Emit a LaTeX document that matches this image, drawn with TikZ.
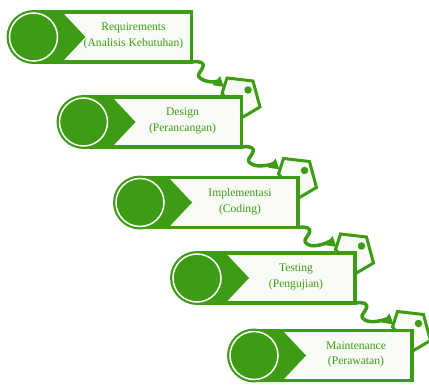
\documentclass[tikz,border=0pt]{standalone}
\usepackage{fontspec}
\setmainfont{Liberation Serif}
\usetikzlibrary{backgrounds,arrows.meta}
\definecolor{vert}{RGB}{62,156,20}
\definecolor{fond}{RGB}{248,250,246}
\begin{document}
\begin{tikzpicture}[x=1pt,y=-1pt]
% Styles (MODIFIABLES)
\tikzstyle{cadre}=[draw=vert,line width=3.5pt,fill=fond,minimum width=158pt,minimum height=50pt,inner sep=0pt,outer sep=0pt]
\tikzstyle{disque}=[circle,fill=vert,draw=vert,double=white,double distance=1.5pt,line width=2.2pt,minimum size=48pt,inner sep=0pt]
\tikzstyle{chevron}=[fill=vert]
\tikzstyle{titre}=[text=vert,align=center,font=\fontsize{11.6}{15.5}\selectfont]
\tikzstyle{etiquette}=[draw=vert,line width=3pt,fill=fond,line join=miter]
\tikzstyle{trou}=[circle,fill=vert,minimum size=7.5pt,inner sep=0pt]
\tikzstyle{fleche}=[-{Triangle[length=10pt,width=11pt]},draw=vert,line width=3.5pt,line cap=round,line join=round]
\useasboundingbox (0,0) rectangle (429,385);
% Etape 1
\node[cadre] (R1) at (112.5,37) {};
\fill[chevron] (R1.north west) -- ([xshift=28.5pt]R1.north west) -- ([xshift=52pt]R1.west) -- ([xshift=28.5pt]R1.south west) -- (R1.south west) -- cycle;
\node[disque] (C1) at (R1.west) {};
\node[titre] (T1) at ([xshift=100pt,yshift=1pt]R1.west) {Requirements\\(Analisis Kebutuhan)};
% Etape 2
\node[cadre] (R2) at (162.5,122) {};
\fill[chevron] (R2.north west) -- ([xshift=28.5pt]R2.north west) -- ([xshift=52pt]R2.west) -- ([xshift=28.5pt]R2.south west) -- (R2.south west) -- cycle;
\node[disque] (C2) at (R2.west) {};
\node[titre] (T2) at ([xshift=99pt,yshift=1pt]R2.west) {Design\\(Perancangan)};
% Etape 3
\node[cadre] (R3) at (219,202.5) {};
\fill[chevron] (R3.north west) -- ([xshift=28.5pt]R3.north west) -- ([xshift=52pt]R3.west) -- ([xshift=28.5pt]R3.south west) -- (R3.south west) -- cycle;
\node[disque] (C3) at (R3.west) {};
\node[titre] (T3) at ([xshift=100pt,yshift=1pt]R3.west) {Implementasi\\(Coding)};
% Etape 4
\node[cadre] (R4) at (276,278) {};
\fill[chevron] (R4.north west) -- ([xshift=28.5pt]R4.north west) -- ([xshift=52pt]R4.west) -- ([xshift=28.5pt]R4.south west) -- (R4.south west) -- cycle;
\node[disque] (C4) at (R4.west) {};
\node[titre] (T4) at ([xshift=99pt,yshift=1pt]R4.west) {Testing\\(Pengujian)};
% Etape 5
\node[cadre] (R5) at (333,355.5) {};
\fill[chevron] (R5.north west) -- ([xshift=28.5pt]R5.north west) -- ([xshift=52pt]R5.west) -- ([xshift=28.5pt]R5.south west) -- (R5.south west) -- cycle;
\node[disque] (C5) at (R5.west) {};
\node[titre] (T5) at ([xshift=102pt,yshift=1pt]R5.west) {Maintenance\\(Perawatan)};
% Etiquettes et fleches (derriere les cadres)
\begin{scope}[on background layer]
\draw[etiquette] ([shift={(-19.5,-3.5)}]R2.north east) -- ([shift={(-14.5,-19)}]R2.north east) -- ([shift={(11.5,-16)}]R2.north east) -- ([shift={(18.5,10)}]R2.north east) -- ([shift={(1.5,20)}]R2.north east) -- cycle;
\node[trou] (P2) at ([shift={(6.5,-7)}]R2.north east) {};
\coordinate (E2) at ([shift={(-17.5,-10)}]R2.north east);
\draw[fleche] (R1.south east) .. controls +(8,-1) and +(3,-6) .. ++(11,6) .. controls +(-3,6) and +(-6,-4) .. ++(-1,11) .. controls +(6,4) and +(-6,-5) .. (E2);
\draw[etiquette] ([shift={(-19.5,-3.5)}]R3.north east) -- ([shift={(-14.5,-19)}]R3.north east) -- ([shift={(11.5,-16)}]R3.north east) -- ([shift={(18.5,10)}]R3.north east) -- ([shift={(1.5,20)}]R3.north east) -- cycle;
\node[trou] (P3) at ([shift={(6.5,-7)}]R3.north east) {};
\coordinate (E3) at ([shift={(-18.5,-8)}]R3.north east);
\draw[fleche] (R2.south east) .. controls +(8,-1) and +(3,-6) .. ++(11,6) .. controls +(-3,6) and +(-6,-4) .. ++(-1,11) .. controls +(6,4) and +(-6,-5) .. (E3);
\draw[etiquette] ([shift={(-19.5,-3.5)}]R4.north east) -- ([shift={(-14.5,-19)}]R4.north east) -- ([shift={(11.5,-16)}]R4.north east) -- ([shift={(18.5,10)}]R4.north east) -- ([shift={(1.5,20)}]R4.north east) -- cycle;
\node[trou] (P4) at ([shift={(6.5,-7)}]R4.north east) {};
\coordinate (E4) at ([shift={(-18.5,-6)}]R4.north east);
\draw[fleche] (R3.south east) .. controls +(8,-1) and +(3,-6) .. ++(11,6) .. controls +(-3,6) and +(-6,-4) .. ++(-1,11) .. controls +(6,4) and +(-6,-5) .. (E4);
\draw[etiquette] ([shift={(-19.5,-3.5)}]R5.north east) -- ([shift={(-14.5,-19)}]R5.north east) -- ([shift={(11.5,-16)}]R5.north east) -- ([shift={(18.5,10)}]R5.north east) -- ([shift={(1.5,20)}]R5.north east) -- cycle;
\node[trou] (P5) at ([shift={(6.5,-7)}]R5.north east) {};
\coordinate (E5) at ([shift={(-18.5,-6)}]R5.north east);
\draw[fleche] (R4.south east) .. controls +(8,-1) and +(3,-6) .. ++(11,6) .. controls +(-3,6) and +(-6,-4) .. ++(-1,11) .. controls +(6,4) and +(-6,-5) .. (E5);
\end{scope}
\end{tikzpicture}
\end{document}
